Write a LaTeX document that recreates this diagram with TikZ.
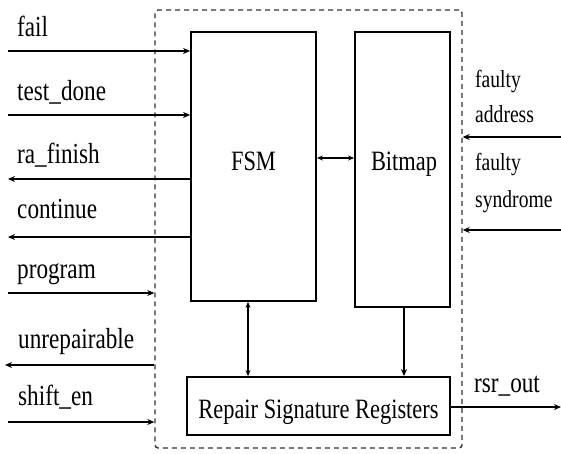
\documentclass[tikz,border=0pt]{standalone}
\usepackage{fontspec}
\usepackage{graphicx}
\setmainfont{Liberation Serif}
\newcommand{\sq}[1]{\scalebox{0.8}[1]{#1}}
\usetikzlibrary{arrows.meta}
\begin{document}
\begin{tikzpicture}[x=1pt,y=-1pt,
  blk/.style={draw,line width=1.8pt,inner sep=0pt},
  frm/.style={draw,line width=1.4pt,dash pattern=on 5pt off 4pt,rounded corners=3pt,inner sep=0pt,black!80},
  arr/.style={line width=1.8pt,-{Stealth[length=7pt,width=6pt]}},
  darr/.style={line width=1.5pt,{Stealth[length=6pt,width=5pt]}-{Stealth[length=6pt,width=5pt]}},
  lab/.style={anchor=base west,inner sep=0pt,font=\fontsize{29}{30}\selectfont},
  rlab/.style={anchor=base west,inner sep=0pt,font=\fontsize{24.5}{30}\selectfont},
  btxt/.style={inner sep=0pt,font=\fontsize{28}{30}\selectfont}]
\useasboundingbox (0,0) rectangle (561,453);
% frame and blocks
\node[frm,minimum width=307pt,minimum height=438pt] (frame) at (308.5,229) {};
\node[blk,minimum width=125pt,minimum height=269pt] (fsm) at (253.5,166.5) {};
\node[blk,minimum width=95pt,minimum height=275pt] (bitmap) at (402.5,169.5) {};
\node[blk,minimum width=263pt,minimum height=58pt] (rsr) at (318.5,406) {};
\node[btxt,anchor=base] (fsmt) at (253.5,170) {\sq{FSM}};
\node[btxt,anchor=base] (bitt) at (404,170) {\sq{Bitmap}};
\node[btxt,anchor=base] (rsrt) at (318.5,418) {\sq{Repair Signature Registers}};
% left labels
\node[lab] (lfail) at (17,36) {\sq{fail}};
\node[lab] (ltd) at (17,100) {\sq{test\_done}};
\node[lab] (lra) at (17,163) {\sq{ra\_finish}};
\node[lab] (lcont) at (17,218) {\sq{continue}};
\node[lab] (lprog) at (17,278) {\sq{program}};
\node[lab] (lunr) at (18,348) {\sq{unrepairable}};
\node[lab] (lsh) at (18,405) {\sq{shift\_en}};
% right labels
\node[rlab] (fa1) at (475,87) {\sq{faulty}};
\node[rlab] (fa2) at (475,122) {\sq{address}};
\node[rlab] (fs1) at (475,170) {\sq{faulty}};
\node[rlab] (fs2) at (475,207) {\sq{syndrome}};
\node[lab] (lrsr) at (474,392) {\sq{rsr\_out}};
% free ends
\coordinate (cfail) at (8,51);
\coordinate (ctd) at (8,115);
\coordinate (cra) at (8,179);
\coordinate (ccont) at (8,237);
\coordinate (cprog) at (8,293);
\coordinate (cunr) at (5,365);
\coordinate (csh) at (8,422);
\coordinate (cfa) at (561,137);
\coordinate (cfs) at (561,230);
\coordinate (crsr) at (561,407);
% connectors
\draw[arr] (cfail) -- (cfail -| fsm.west);
\draw[arr] (ctd) -- (ctd -| fsm.west);
\draw[arr] (cra -| fsm.west) -- (cra);
\draw[arr] (ccont -| fsm.west) -- (ccont);
\draw[arr] (cprog) -- (cprog -| frame.west);
\draw[arr] (cunr -| frame.west) -- (cunr);
\draw[arr] (csh) -- (csh -| frame.west);
\draw[arr] (cfa) -- (cfa -| frame.east);
\draw[arr] (cfs) -- (cfs -| frame.east);
\draw[arr] (crsr -| rsr.east) -- (crsr);
\draw[darr] ([yshift=8.5pt]fsm.east) -- ([yshift=11.5pt]bitmap.west);
\draw[darr] ([xshift=-5.5pt]fsm.south) -- ([xshift=-70.5pt]rsr.north);
\draw[arr,line width=1.5pt] ([xshift=1.5pt]bitmap.south) -- ([xshift=85.5pt]rsr.north);
\end{tikzpicture}
\end{document}
